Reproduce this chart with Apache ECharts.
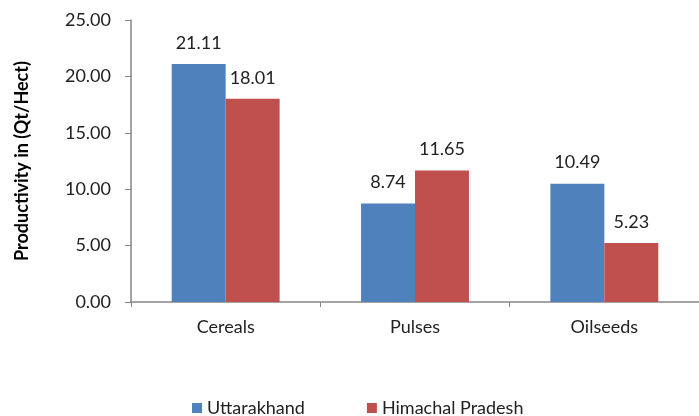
<!DOCTYPE html>
<html>
<head>
<meta charset="utf-8">
<script src="https://cdn.jsdelivr.net/npm/echarts@6/dist/echarts.min.js"></script>
<style>
  html, body { margin: 0; padding: 0; background: #fff; }
  #chart { width: 699px; height: 416px; }
</style>
</head>
<body>
<div id="chart"></div>
<script>
  // crop productivity data
  const categories = ['Cereals', 'Pulses', 'Oilseeds']
  const uttarakhand = [21.11, 8.74, 10.49]
  const himachal = [18.01, 11.65, 5.23]

  const font = 'Lato, "Open Sans", sans-serif'
  const axisGray = '#868686'

  let myChart = echarts.init(document.getElementById('chart'))
  myChart.setOption({
    animation: false,
    color: ['#4F81BD', '#C0504D'],
    textStyle: { fontFamily: font, color: '#000' },
    grid: { left: 131, top: 20, width: 572, height: 282 },
    legend: {
      top: 394,
      left: 187,
      itemWidth: 10,
      itemHeight: 10,
      itemGap: 62,
      icon: 'rect',
      textStyle: { fontSize: 18, fontFamily: font, color: '#222' },
      data: ['Uttarakhand', 'Himachal Pradesh']
    },
    xAxis: {
      type: 'category',
      data: categories,
      axisLine: { lineStyle: { color: axisGray, width: 1.5 } },
      axisTick: { show: true, length: 5, lineStyle: { color: axisGray } },
      axisLabel: { fontSize: 18, color: '#222', margin: 16, fontFamily: font }
    },
    yAxis: {
      type: 'value',
      min: 0,
      max: 25,
      interval: 5,
      name: 'Productivity in (Qt/Hect)',
      nameLocation: 'middle',
      nameGap: 100,
      nameTextStyle: { fontSize: 18, fontWeight: 'bold', color: '#000', fontFamily: font },
      axisLine: { show: true, lineStyle: { color: axisGray, width: 1.5 } },
      axisTick: { show: true, length: 6, lineStyle: { color: axisGray } },
      splitLine: { show: false },
      axisLabel: {
        fontSize: 18, color: '#222', margin: 20, fontFamily: font,
        formatter: v => v.toFixed(2)
      }
    },
    series: [
      {
        name: 'Uttarakhand',
        type: 'bar',
        data: uttarakhand,
        barGap: '0%',
        barCategoryGap: '43%',
        label: { show: true, position: 'top', distance: 12, fontSize: 18, color: '#222', fontFamily: font, formatter: p => p.value.toFixed(2) }
      },
      {
        name: 'Himachal Pradesh',
        type: 'bar',
        data: himachal,
        barGap: '0%',
        barCategoryGap: '43%',
        label: { show: true, position: 'top', distance: 12, fontSize: 18, color: '#222', fontFamily: font, formatter: p => p.value.toFixed(2) }
      }
    ]
  })
</script>
</body>
</html>
